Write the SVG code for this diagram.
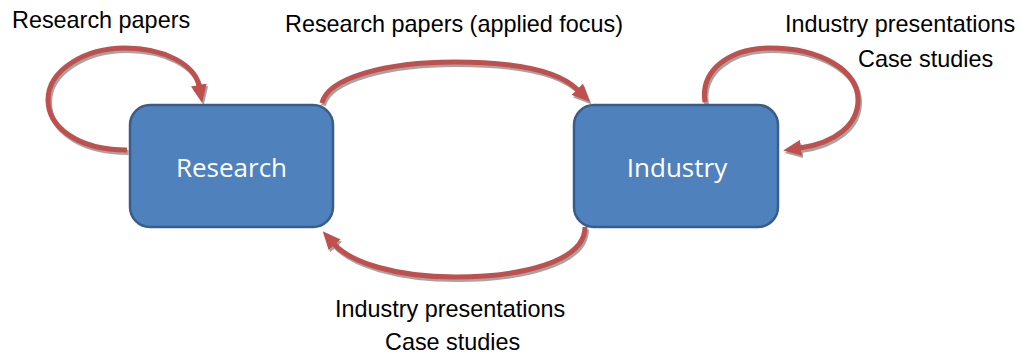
<svg xmlns="http://www.w3.org/2000/svg" width="1020" height="356" viewBox="0 0 1020 356">
<style>
.box{fill:#4F81BD;stroke:#385D8A;stroke-width:2.5}
.nlabel{font-family:"Open Sans","Liberation Sans",sans-serif;font-size:26px;fill:#FFFFFF;text-anchor:middle}
.lbl{font-family:"Liberation Sans",Arial,sans-serif;font-size:23.4px;fill:#000000}
.edge{fill:none;stroke:#C0504D;stroke-width:5;marker-end:url(#head)}
.shadow{fill:none;stroke:#A5A5A5;stroke-width:5;marker-end:url(#headS)}
</style>
<defs>
<marker id="head" markerUnits="userSpaceOnUse" markerWidth="18" markerHeight="16" viewBox="0 0 18 16" refX="1" refY="8" orient="auto">
<path d="M0,0 L18,8 L0,16 z" fill="#C0504D"/>
</marker>
<marker id="headS" markerUnits="userSpaceOnUse" markerWidth="18" markerHeight="16" viewBox="0 0 18 16" refX="1" refY="8" orient="auto">
<path d="M0,0 L18,8 L0,16 z" fill="#A5A5A5"/>
</marker>
</defs>
<rect width="1020" height="356" fill="#FFFFFF"/>
<g id="connectors">
<g transform="translate(1.5,2.5)">
<path class="shadow" d="M127,150 C75,150 48,125 48,100 C48,70 85,48 125,48 C165,48 195,65 199,86"/>
<path class="shadow" d="M322,103 C328,78 385,62 455,62 C520,62 560,72 578,90"/>
<path class="shadow" d="M705,102 C700,70 730,48 770,48 C820,48 858,70 858,100 C858,125 835,143 800,148"/>
<path class="shadow" d="M585,227 C585,262 520,277 455,277 C395,277 350,262 334,244"/>
</g>
<path class="edge" d="M127,150 C75,150 48,125 48,100 C48,70 85,48 125,48 C165,48 195,65 199,86"/>
<path class="edge" d="M322,103 C328,78 385,62 455,62 C520,62 560,72 578,90"/>
<path class="edge" d="M705,102 C700,70 730,48 770,48 C820,48 858,70 858,100 C858,125 835,143 800,148"/>
<path class="edge" d="M585,227 C585,262 520,277 455,277 C395,277 350,262 334,244"/>
</g>
<g id="research">
<rect class="box" x="130" y="105" width="203" height="122" rx="20"/>
<text class="nlabel" x="231.5" y="177">Research</text>
</g>
<g id="industry">
<rect class="box" x="574" y="105" width="204" height="122" rx="20"/>
<text class="nlabel" x="677" y="177">Industry</text>
</g>
<g id="labels">
<text class="lbl" x="12" y="28">Research papers</text>
<text class="lbl" x="285" y="32">Research papers (applied focus)</text>
<text class="lbl" x="785" y="32">Industry presentations</text>
<text class="lbl" x="858" y="67">Case studies</text>
<text class="lbl" x="335" y="317">Industry presentations</text>
<text class="lbl" x="385" y="350">Case studies</text>
</g>
</svg>
